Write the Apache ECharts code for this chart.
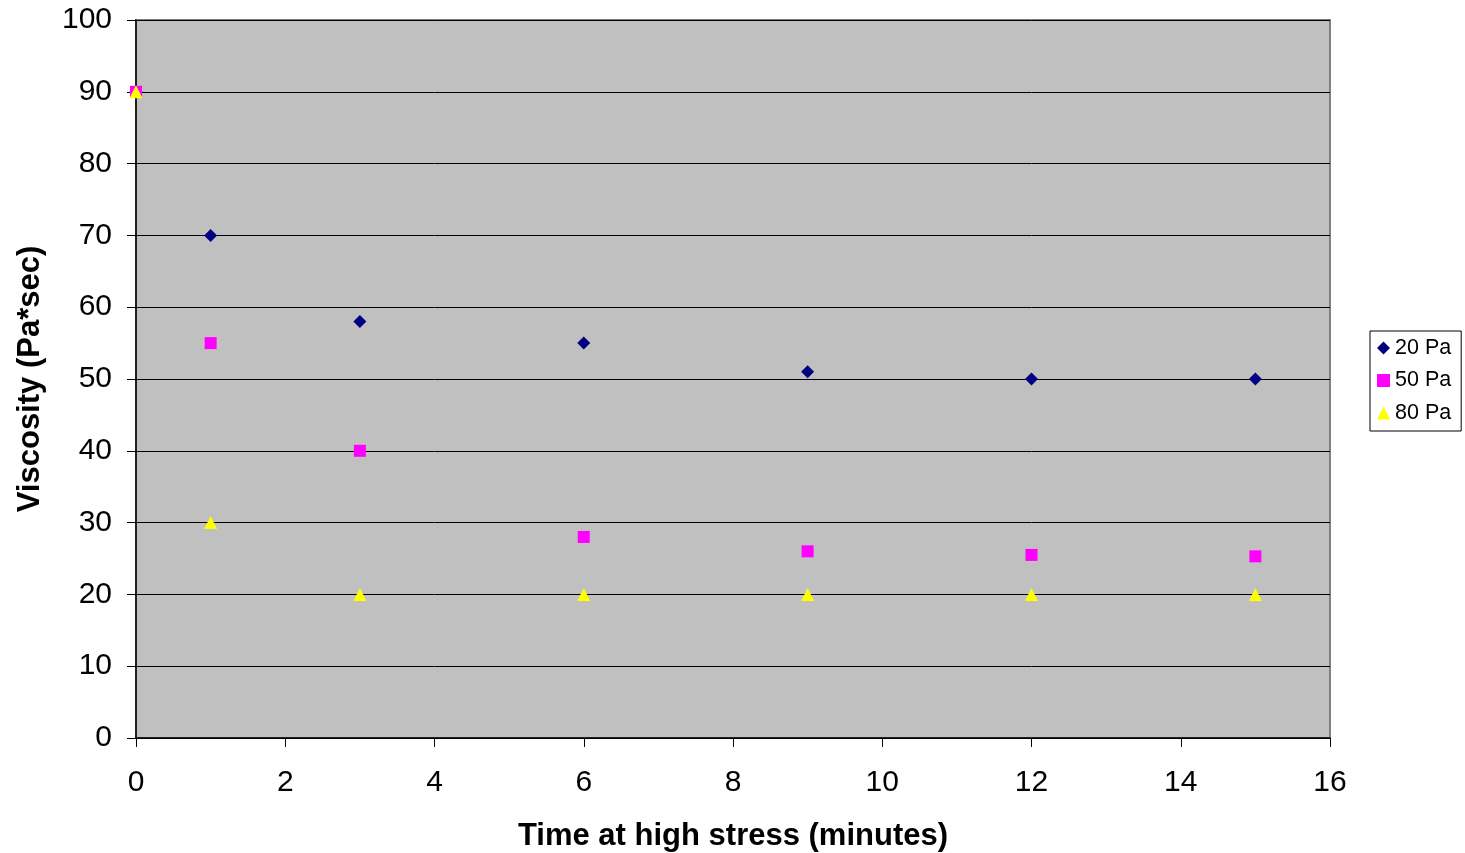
<!DOCTYPE html>
<html><head><meta charset="utf-8">
<script src="https://cdn.jsdelivr.net/npm/echarts@6/dist/echarts.min.js"></script>
<style>html,body{margin:0;padding:0;background:#fff}#c{width:1465px;height:853px}</style>
</head><body><div id="c"></div>
<script>
const times = [0, 1, 3, 6, 9, 12, 15];
const pa20 = [90, 70, 58, 55, 51, 50, 50];
const pa50 = [90, 55, 40, 28, 26, 25.5, 25.3];
const pa80 = [90, 30, 20, 20, 20, 20, 20];
const seriesNames = ['20 Pa', '50 Pa', '80 Pa'];

const zip = v => times.map((t, i) => [t, v[i]]);
const chart = echarts.init(document.getElementById('c'));
const font = 'Liberation Sans, Arial, sans-serif';
chart.setOption({
  animation: false,
  textStyle: {fontFamily: font},
  grid: {left: 136, right: 135, top: 20, bottom: 115, containLabel: false, outerBoundsMode: 'none', show: true, backgroundColor: '#C0C0C0', borderColor: '#808080', borderWidth: 2},
  legend: {
    orient: 'vertical', left: 1370, top: 331, width: 92,
    borderColor: '#000', borderWidth: 1, padding: [6, 10, 7, 7], itemGap: 10.5,
    itemWidth: 13, itemHeight: 13,
    textStyle: {fontSize: 21.5, color: '#000', fontFamily: font},
    data: seriesNames
  },
  xAxis: {
    type: 'value', min: 0, max: 16, interval: 2,
    name: 'Time at high stress (minutes)', nameLocation: 'middle', nameGap: 83,
    nameTextStyle: {fontSize: 31, fontWeight: 'bold', color: '#000', fontFamily: font},
    axisLine: {show: true, lineStyle: {color: '#000', width: 1.5}},
    axisTick: {show: true, length: 9, lineStyle: {color: '#000'}},
    axisLabel: {fontSize: 30, color: '#000', margin: 30, fontFamily: font},
    splitLine: {show: false}
  },
  yAxis: {
    type: 'value', min: 0, max: 100, interval: 10,
    name: 'Viscosity (Pa*sec)', nameLocation: 'middle', nameGap: 90,
    nameTextStyle: {fontSize: 31, fontWeight: 'bold', color: '#000', fontFamily: font},
    axisLine: {show: true, lineStyle: {color: '#000', width: 1.5}},
    axisTick: {show: true, inside: false, length: 9, lineStyle: {color: '#000'}},
    axisLabel: {fontSize: 30, color: '#000', margin: 24, fontFamily: font},
    splitLine: {show: true, lineStyle: {color: '#000', width: 1}}
  },
  series: [
    {name: seriesNames[0], type: 'scatter', symbol: 'diamond', symbolSize: 13, itemStyle: {color: '#000080', opacity: 1}, data: zip(pa20)},
    {name: seriesNames[1], type: 'scatter', symbol: 'rect', symbolSize: 12, itemStyle: {color: '#FF00FF', opacity: 1}, data: zip(pa50)},
    {name: seriesNames[2], type: 'scatter', symbol: 'triangle', symbolSize: 13, itemStyle: {color: '#FFFF00', opacity: 1}, data: zip(pa80)}
  ]
});
</script></body></html>
